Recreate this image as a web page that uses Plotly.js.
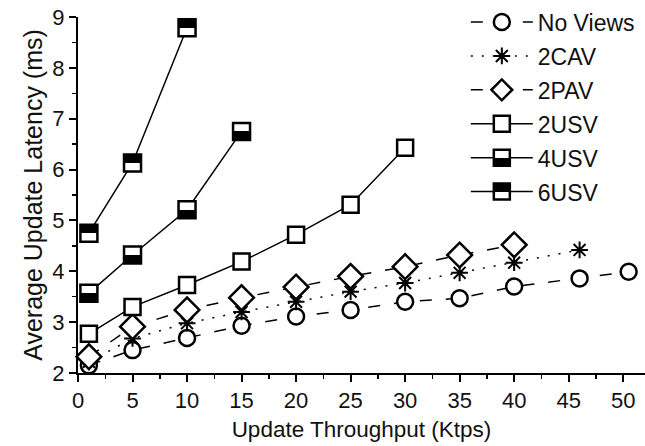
<!DOCTYPE html>
<html>
<head>
<meta charset="utf-8">
<script src="https://cdn.plot.ly/plotly-3.0.1.min.js"></script>
<style>
html,body{margin:0;padding:0;background:#fff;}
#chart{width:645px;height:446px;}
</style>
</head>
<body>
<div id="chart"></div>
<script>
// ---- data ----
var seriesNames = ['No Views', '2CAV', '2PAV', '2USV', '4USV', '6USV'];

var noViewsX = [1, 5, 10, 15, 20, 25, 30, 35, 40, 46, 50.5];
var noViewsY = [2.15, 2.45, 2.69, 2.93, 3.11, 3.24, 3.40, 3.47, 3.70, 3.86, 3.99];

var cavX = [1, 5, 10, 15, 20, 25, 30, 35, 40, 46];
var cavY = [2.22, 2.68, 2.98, 3.20, 3.40, 3.60, 3.77, 3.97, 4.17, 4.42];

var pavX = [1, 5, 10, 15, 20, 25, 30, 35, 40];
var pavY = [2.32, 2.91, 3.24, 3.48, 3.69, 3.90, 4.09, 4.32, 4.52];

var usv2X = [1, 5, 10, 15, 20, 25, 30];
var usv2Y = [2.77, 3.30, 3.73, 4.19, 4.72, 5.31, 6.43];

var usv4X = [1, 5, 10, 15];
var usv4Y = [3.57, 4.32, 5.21, 6.75];

var usv6X = [1, 5, 10];
var usv6Y = [4.75, 6.13, 8.79];

var xTickVals = [0, 5, 10, 15, 20, 25, 30, 35, 40, 45, 50];
var yTickVals = [2, 3, 4, 5, 6, 7, 8, 9];

var FONT = 'Liberation Sans, Arial, sans-serif';

function tr(name, x, y, dash, symbol, size, extra) {
  var t = {
    type: 'scatter', mode: 'lines+markers', name: name, x: x, y: y,
    legendgroup: name,
    line: {color: '#000', width: 1.5, dash: dash},
    marker: {symbol: symbol, size: size, color: '#fff',
             line: {color: '#000', width: 2.5}},
    cliponaxis: false
  };
  if (extra) { for (var k in extra) t.marker[k] = extra[k]; }
  return t;
}

var data = [
  tr(seriesNames[0], noViewsX, noViewsY, '12px,14px', 'circle', 16),
  tr(seriesNames[1], cavX, cavY, '2px,9px', 'asterisk-open', 14, {color: '#000'}),
  tr(seriesNames[2], pavX, pavY, '12px,14px', 'diamond', 19),
  tr(seriesNames[3], usv2X, usv2Y, 'solid', 'square', 16),
  tr(seriesNames[4], usv4X, usv4Y, 'solid', 'square', 17,
     {color: '#fff', gradient: {type: 'vertical', color: '#000'}}),
  tr(seriesNames[5], usv6X, usv6Y, 'solid', 'square', 17,
     {color: '#000', gradient: {type: 'vertical', color: '#fff'}})
];
data[1].marker.line.width = 2;

var layout = {
  width: 645, height: 446,
  margin: {l: 78, r: 0, t: 17, b: 73},
  paper_bgcolor: '#fff', plot_bgcolor: '#fff',
  font: {family: FONT, color: '#111', size: 22},
  showlegend: true,
  legend: {
    x: 0.684, y: 1.046, xanchor: 'left', yanchor: 'top',
    bgcolor: 'rgba(0,0,0,0)', borderwidth: 0,
    font: {family: FONT, size: 23, color: '#111'},
    tracegroupgap: 1, itemwidth: 62
  },
  xaxis: {
    range: [0, 52], tickvals: xTickVals, ticktext: xTickVals.map(String),
    showgrid: false, zeroline: false, showline: true,
    linecolor: '#000', linewidth: 2,
    ticks: 'outside', ticklen: 7, tickwidth: 2, tickcolor: '#000',
    minor: {dtick: 2.5, tick0: 0, ticks: 'outside', ticklen: 4, tickwidth: 1.5, tickcolor: '#000'},
    tickfont: {family: FONT, size: 22, color: '#111'},
    title: {text: 'Update Throughput (Ktps)', font: {family: FONT, size: 22.5, color: '#111'}, standoff: 9}
  },
  yaxis: {
    range: [2, 9], tickvals: yTickVals, ticktext: yTickVals.map(String),
    showgrid: false, zeroline: false, showline: true,
    linecolor: '#000', linewidth: 2,
    ticks: 'outside', ticklen: 7, tickwidth: 2, tickcolor: '#000',
    minor: {dtick: 0.5, tick0: 2, ticks: 'outside', ticklen: 4, tickwidth: 1.5, tickcolor: '#000'},
    tickfont: {family: FONT, size: 22, color: '#111'},
    title: {text: 'Average Update Latency (ms)', font: {family: FONT, size: 25, color: '#111'}, standoff: 3}
  }
};

function sharpenGradients(gd) {
  var grads = gd.querySelectorAll('linearGradient');
  grads.forEach(function (g) {
    var stops = g.querySelectorAll('stop');
    if (stops.length < 2) return;
    var a = stops[0], b = stops[stops.length - 1];
    var c0 = a.getAttribute('stop-color'), o0 = a.getAttribute('stop-opacity') || 1;
    var c1 = b.getAttribute('stop-color'), o1 = b.getAttribute('stop-opacity') || 1;
    while (g.firstChild) g.removeChild(g.firstChild);
    [[0, c0, o0], [50, c0, o0], [50, c1, o1], [100, c1, o1]].forEach(function (s) {
      var st = document.createElementNS('http://www.w3.org/2000/svg', 'stop');
      st.setAttribute('offset', s[0] + '%');
      st.setAttribute('stop-color', s[1]);
      st.setAttribute('stop-opacity', s[2]);
      g.appendChild(st);
    });
  });
}

Plotly.newPlot('chart', data, layout, {staticPlot: true, displayModeBar: false})
  .then(function (gd) { sharpenGradients(gd); });
</script>
</body>
</html>
